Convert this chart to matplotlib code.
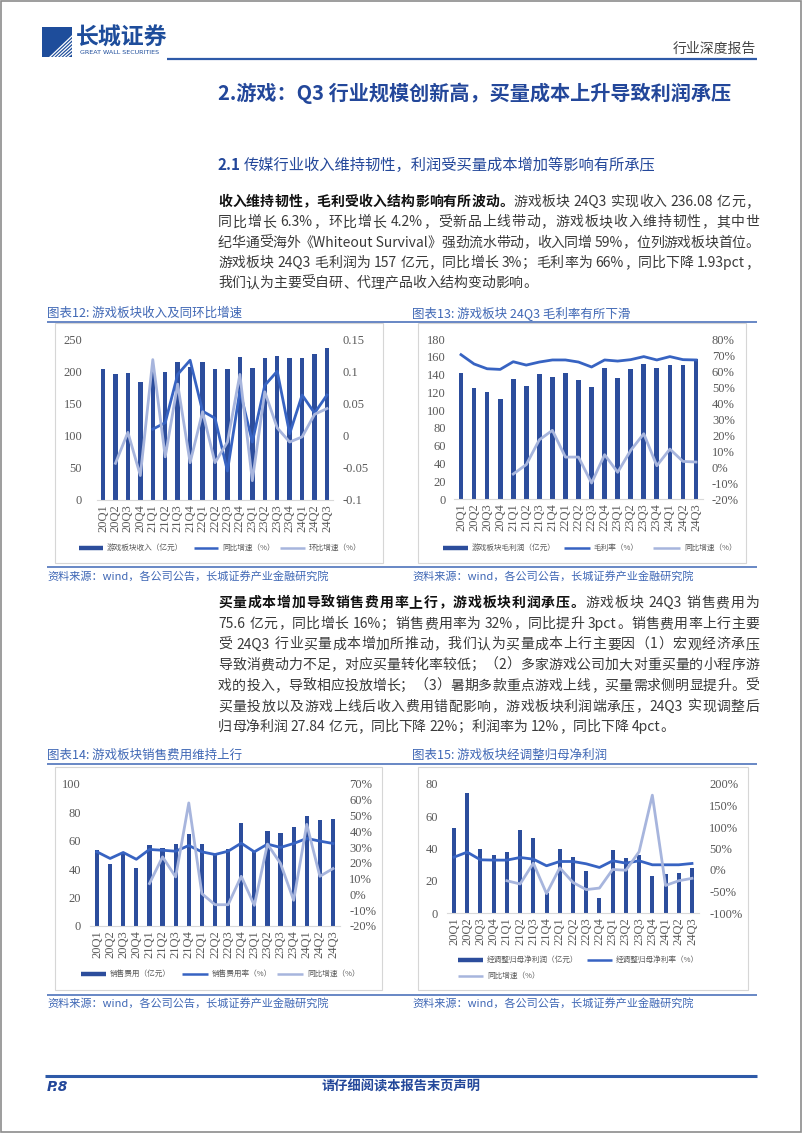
import re
import numpy as np
import matplotlib
matplotlib.use('Agg')
import matplotlib.pyplot as plt
from matplotlib.lines import Line2D
from matplotlib.patches import Rectangle

plt.rcParams['font.family'] = ['Noto Sans CJK SC', 'DejaVu Sans']

W, H = 802, 1133
nan = np.nan

quarters = ['20Q1', '20Q2', '20Q3', '20Q4', '21Q1', '21Q2', '21Q3', '21Q4',
            '22Q1', '22Q2', '22Q3', '22Q4', '23Q1', '23Q2', '23Q3', '23Q4',
            '24Q1', '24Q2', '24Q3']

# chart 12: revenue (亿元), yoy / qoq as fractions
revenue = [204, 195, 197, 184, 205, 199, 215, 206, 214, 204, 203, 222,
           205, 220, 223, 220, 220, 226, 236.08]
revenue_yoy = [nan, nan, nan, nan, 0.01, 0.02, 0.095, 0.117, 0.038, 0.027,
               -0.055, 0.07, -0.01, 0.078, 0.10, 0.003, 0.063, 0.035, 0.063]
revenue_qoq = [nan, -0.043, 0.005, -0.062, 0.118, -0.033, 0.08, -0.042, 0.037,
               -0.042, -0.01, 0.095, -0.07, 0.068, 0.012, -0.01, -0.002, 0.033, 0.042]

# chart 13: gross profit (亿元), margin %, yoy %
gross_profit = [141.7, 124.5, 120, 112, 134.6, 126.8, 140.6, 137.2, 141.7, 133.5,
                126, 147.4, 136, 146, 151.9, 147.4, 150.4, 150.7, 157]
gross_margin = [70.2, 64.4, 61.4, 61, 65.8, 63.7, 65.6, 66.9, 66.9, 65.6, 62.5,
                66.9, 66.2, 67.1, 69, 66.9, 69, 67.1, 66.9]
gross_yoy = [nan, nan, nan, nan, -4.4, 1.5, 17, 22.9, 6.2, 6.2, -10, 7.7, -3.3,
             10.4, 20.8, 0.8, 11.2, 3.5, 3.1]

# chart 14: selling expense (亿元), rate %, yoy %
selling = [53.4, 44, 51, 40.7, 57, 54.6, 57.6, 64.7, 57.6, 50, 53.9, 72.7, 52.2,
           67, 65.2, 69.9, 77.6, 74.6, 75.6]
selling_rate = [27, 22.8, 26.6, 22.3, 28.5, 28, 27.4, 31, 27, 25.3, 27.4, 32.5,
                27, 31.9, 29.8, 32.3, 35.5, 33.8, 32.3]
selling_yoy = [nan, nan, nan, nan, 6.9, 23.8, 11.1, 58, 0.5, -6.5, -6.5, 11.5,
               -6.9, 31.9, 19.6, -3.7, 44.4, 11.5, 16.4]

# chart 15: adjusted net profit (亿元), net margin %, yoy %
net_profit = [52.6, 74.2, 40, 36, 38.1, 51.3, 46.8, 12.5, 39.4, 34.6, 26.2, 9.3,
              38.8, 34.2, 36, 23, 24.3, 24.7, 27.84]
net_margin = [29.9, 41.5, 23.7, 23, 23, 29.1, 25.2, 9.8, 19.8, 19.8, 14.4, 5.9,
              21.4, 16, 21.4, 12.1, 12.1, 12.1, 15.2]
net_yoy = [nan, nan, nan, nan, -25, -32.5, 16, -55, 5, -29, -45.6, -42, 1.25,
           -0.6, 42.5, 174, -36, -25, -19.4]

para1 = [
    [('收入维持韧性，毛利受收入结构影响有所波动。', 'bold'),
     ('游戏板块 24Q3 实现收入 236.08 亿元，', 'normal')],
    [('同比增长 6.3%，环比增长 4.2%，受新品上线带动，游戏板块收入维持韧性，其中世', 'normal')],
    [('纪华通受海外《Whiteout Survival》强劲流水带动，收入同增 59%，位列游戏板块首位。', 'normal')],
    [('游戏板块 24Q3 毛利润为 157 亿元，同比增长 3%；毛利率为 66%，同比下降 1.93pct，', 'normal')],
    [('我们认为主要受自研、代理产品收入结构变动影响。', 'normal')],
]
para2 = [
    [('买量成本增加导致销售费用率上行，游戏板块利润承压。', 'bold'),
     ('游戏板块 24Q3 销售费用为', 'normal')],
    [('75.6 亿元，同比增长 16%；销售费用率为 32%，同比提升 3pct。销售费用率上行主要', 'normal')],
    [('受 24Q3 行业买量成本增加所推动，我们认为买量成本上行主要因（1）宏观经济承压', 'normal')],
    [('导致消费动力不足，对应买量转化率较低；（2）多家游戏公司加大对重买量的小程序游', 'normal')],
    [('戏的投入，导致相应投放增长；（3）暑期多款重点游戏上线，买量需求侧明显提升。受', 'normal')],
    [('买量投放以及游戏上线后收入费用错配影响，游戏板块利润端承压，24Q3 实现调整后', 'normal')],
    [('归母净利润 27.84 亿元，同比下降 22%；利润率为 12%，同比下降 4pct。', 'normal')],
]

BAR = '#2C4D9C'
DARK = '#3763C2'
LIGHT = '#A7B5DD'
BLUE = '#23479A'
CAP = '#3F67B5'
GRAY = '#595959'
BODY_C = '#3A3A3A'

fig = plt.figure(figsize=(W / 100, H / 100), dpi=100)
fig.patch.set_facecolor('white')
renderer = fig.canvas.get_renderer()


def fx(x):
    return x / W


def fy(y):
    return 1 - y / H


def ftext(x, y, s, **kw):
    kw.setdefault('va', 'center')
    return fig.text(fx(x), fy(y), s, **kw)


def hline(x0, x1, y, color, lw):
    fig.add_artist(Line2D([fx(x0), fx(x1)], [fy(y), fy(y)], color=color, lw=lw,
                          solid_capstyle='butt'))


def box(x0, y0, x1, y1):
    # frame drawn below the axes
    fig.add_artist(Rectangle((fx(x0), fy(y1)), fx(x1) - fx(x0), fy(y0) - fy(y1),
                             facecolor='white', edgecolor='#D6D6D6', lw=0.8,
                             transform=fig.transFigure, zorder=-5))


def body_line(x0, x1, y, parts, size, justify=True):
    units = []
    for s, wt in parts:
        for tok in re.findall(r"[A-Za-z0-9.%]+(?: [A-Za-z]+)*| |.", s):
            units.append((tok, wt))
    items = []
    for tok, wt in units:
        if tok == ' ':
            items.append((None, size * 0.35))
            continue
        col = '#111111' if wt == 'bold' else BODY_C
        t = ftext(0, y, tok, fontsize=size, fontweight=wt, color=col)
        items.append((t, t.get_window_extent(renderer=renderer).width))
    total = sum(w for _, w in items)
    gap = (x1 - x0 - total) / (len(items) - 1) if justify else 0.0
    x = x0
    for t, w in items:
        if t is not None:
            t.set_x(fx(x))
        x += w + gap


def chart(x_first, x_last, y_top, y_bot, bars, dark, light, ylim, yticks,
          rlim, rticks, rlabels, bw, lpad, rpad, legend):
    n = len(quarters)
    step = (x_last - x_first) / (n - 1)
    x0 = x_first - step / 2
    x1 = x_last + step / 2
    ax = fig.add_axes([fx(x0), fy(y_bot), (x1 - x0) / W, (y_bot - y_top) / H])
    ax.patch.set_alpha(0)
    x = np.arange(n)
    ax.bar(x, bars, width=bw, color=BAR, zorder=2)
    ax.set_xlim(-0.5, n - 0.5)
    ax.set_ylim(*ylim)
    ax.set_yticks(yticks)
    ax.set_yticklabels([f'{v:g}' for v in yticks])
    ax.set_xticks(x)
    ax.set_xticklabels(quarters, rotation=90)
    ax2 = ax.twinx()
    ax2.plot(x, dark, color=DARK, lw=2.0, zorder=3)
    ax2.plot(x, light, color=LIGHT, lw=2.0, zorder=3)
    ax2.set_ylim(*rlim)
    ax2.set_yticks(rticks)
    ax2.set_yticklabels(rlabels)
    for a in (ax, ax2):
        for s in a.spines.values():
            s.set_visible(False)
        a.tick_params(length=0, labelsize=9, labelcolor=GRAY)
        for lab in a.get_xticklabels() + a.get_yticklabels():
            lab.set_fontfamily('Liberation Serif')
    ax.spines['bottom'].set_visible(True)
    ax.spines['bottom'].set_color('#D9D9D9')
    ax.tick_params(axis='y', pad=lpad)
    ax.tick_params(axis='x', pad=3)
    ax2.tick_params(axis='y', pad=rpad)
    for kind, lx0, lx1, ly, label in legend:
        if kind == 'bar':
            hline(lx0, lx1, ly, BAR, 3.2)
        else:
            hline(lx0, lx1, ly, DARK if kind == 'dark' else LIGHT, 1.8)
        ftext(lx1 + 4, ly, label, fontsize=5.5, color=GRAY)
    return ax


# page frame
fig.add_artist(Rectangle((0.001, 0.001), 0.998, 0.998, fill=False,
                         edgecolor='#8C8C8C', lw=1.2, transform=fig.transFigure))

# header logo
fig.add_artist(Rectangle((fx(42), fy(57)), 30 / W, 30 / H, facecolor='#1E4D9B',
                         edgecolor='none', transform=fig.transFigure))
for k in range(6):
    xs = [fx(50 + k * 3.5), fx(72)]
    ys = [fy(57), fy(36 + k * 3.5)]
    fig.add_artist(Line2D(xs, ys, color='white', lw=0.9))
ftext(76, 38, '长城证券', fontsize=16.5, fontweight='bold', color='#1E4D9B')
ftext(80, 53, 'GREAT WALL SECURITIES', fontsize=4.6, color='#1E4D9B',
      family='DejaVu Sans')
ftext(756, 49, '行业深度报告', fontsize=10, color='#444444', ha='right')
hline(167, 757, 59, '#2E5AA8', 1.6)

# section titles
ftext(218, 93, '2.游戏：Q3 行业规模创新高，买量成本上升导致利润承压', fontsize=14.5,
      fontweight='bold', color=BLUE)
t21 = ftext(218, 165, '2.1', fontsize=11, fontweight='bold', color=BLUE)
ftext(218 + t21.get_window_extent(renderer=renderer).width + 3, 165,
      '传媒行业收入维持韧性，利润受买量成本增加等影响有所承压', fontsize=11, color=BLUE)

BODY = 10
for i, parts in enumerate(para1):
    body_line(218, 759, 202 + i * 20.3, parts, BODY, justify=i < len(para1) - 1)

# chart captions row 1
ftext(47, 313, '图表12: 游戏板块收入及同环比增速', fontsize=9, color=CAP)
ftext(412, 313, '图表13: 游戏板块 24Q3 毛利率有所下滑', fontsize=9, color=CAP)
hline(47, 757, 322, CAP, 1.1)
box(55, 323, 383, 563)
box(418, 323, 746, 563)

chart(103, 327, 339, 500, revenue, revenue_yoy, revenue_qoq,
      (0, 250), [0, 50, 100, 150, 200, 250],
      (-0.1, 0.15), [-0.1, -0.05, 0, 0.05, 0.1, 0.15],
      ['-0.1', '-0.05', '0', '0.05', '0.1', '0.15'], 0.36, 10.5, 7,
      [('bar', 79, 103, 548, '游戏板块收入（亿元）'),
       ('dark', 194, 218, 548, '同比增速（%）'),
       ('light', 280, 305, 548, '环比增速（%）')])

chart(461, 696, 339, 499, gross_profit, gross_margin, gross_yoy,
      (0, 180), list(range(0, 181, 20)),
      (-20, 80), list(range(-20, 81, 10)),
      [f'{v}%' for v in range(-20, 81, 10)], 0.36, 6, 6.8,
      [('bar', 443, 468, 548, '游戏板块毛利润（亿元）'),
       ('dark', 564, 590, 548, '毛利率（%）'),
       ('light', 653, 680, 548, '同比增速（%）')])

hline(47, 757, 567, CAP, 1.1)
ftext(47, 576, '资料来源：wind，各公司公告，长城证券产业金融研究院', fontsize=8, color=CAP)
ftext(412, 576, '资料来源：wind，各公司公告，长城证券产业金融研究院', fontsize=8, color=CAP)

for i, parts in enumerate(para2):
    body_line(218, 759, 603 + i * 20.7, parts, BODY, justify=i < len(para2) - 1)

# chart captions row 2
ftext(47, 755, '图表14: 游戏板块销售费用维持上行', fontsize=9, color=CAP)
ftext(412, 755, '图表15: 游戏板块经调整归母净利润', fontsize=9, color=CAP)
hline(47, 757, 764, CAP, 1.1)
box(55, 767, 382, 990)
box(418, 767, 748, 990)

chart(97, 333, 784, 926, selling, selling_rate, selling_yoy,
      (0, 100), [0, 20, 40, 60, 80, 100],
      (-20, 70), list(range(-20, 71, 10)),
      [f'{v}%' for v in range(-20, 71, 10)], 0.33, 6.8, 7,
      [('bar', 81, 106, 974, '销售费用（亿元）'),
       ('dark', 182, 208, 974, '销售费用率（%）'),
       ('light', 277, 303, 974, '同比增速（%）')])

chart(454, 692, 784, 913, net_profit, net_margin, net_yoy,
      (0, 80), [0, 20, 40, 60, 80],
      (-100, 200), list(range(-100, 201, 50)),
      [f'{v}%' for v in range(-100, 201, 50)], 0.3, 6.8, 7.6,
      [('bar', 458, 483, 960, '经调整归母净利润（亿元）'),
       ('dark', 587, 612, 960, '经调整归母净利率（%）'),
       ('light', 458, 483, 976, '同比增速（%）')])

hline(47, 757, 995, CAP, 1.1)
ftext(47, 1003, '资料来源：wind，各公司公告，长城证券产业金融研究院', fontsize=8, color=CAP)
ftext(412, 1003, '资料来源：wind，各公司公告，长城证券产业金融研究院', fontsize=8, color=CAP)

# footer
hline(45, 757, 1076, '#2E5AA8', 2.2)
ftext(47, 1087, 'P.8', fontsize=10, fontweight='bold', fontstyle='italic', color=BLUE,
      family='DejaVu Sans')
ftext(401, 1087, '请仔细阅读本报告末页声明', fontsize=9.5, fontweight='bold', color=BLUE,
      ha='center')

fig.savefig('out.png', dpi=100)
